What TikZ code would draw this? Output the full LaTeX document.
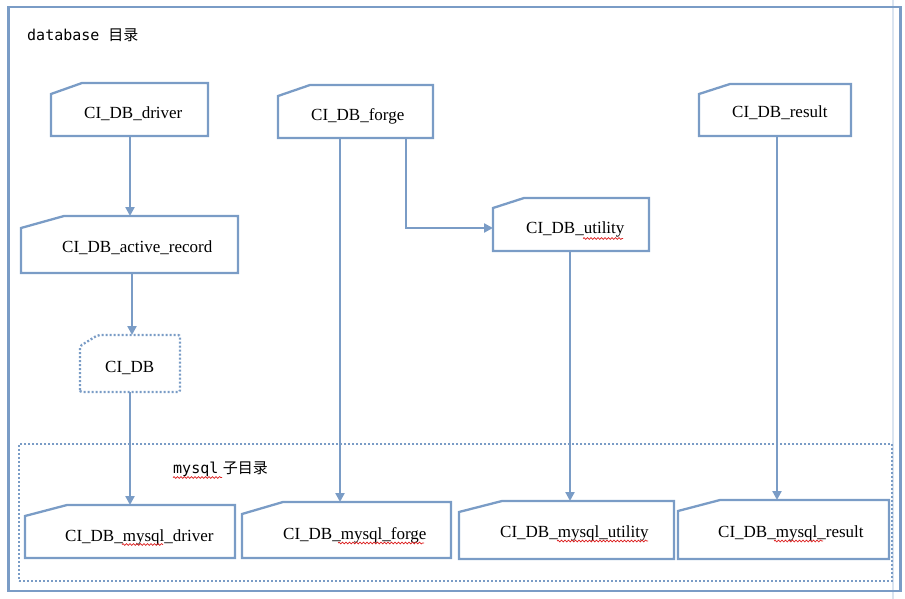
\documentclass[tikz,border=0pt]{standalone}
\usepackage{fontspec}
\setmainfont{Liberation Serif}
\setmonofont{DejaVu Sans Mono}
\newfontfamily\cjk{Noto Sans CJK SC}
\usetikzlibrary{arrows.meta,decorations.pathmorphing}
\definecolor{frameblue}{RGB}{122,156,198}
\definecolor{faintblue}{RGB}{218,228,240}
\definecolor{squig}{RGB}{220,30,30}
\tikzset{
  cardbase/.style={rectangle,inner sep=0pt,outer sep=0pt},
  cardline/.style={draw=frameblue,line width=2.3pt,line join=miter},
  carddot/.style={draw=frameblue,line width=2.3pt,dash pattern=on 2pt off 2pt,rounded corners=2pt},
  lbl/.style={inner sep=0pt,anchor=base west,font=\fontsize{17}{20}\selectfont},
  arr/.style={draw=frameblue,line width=2.3pt,-{Triangle[width=9pt,length=9pt]}},
  wavy/.style={draw=squig,line width=0.7pt,decorate,decoration={snake,amplitude=0.9pt,segment length=3.5pt}}
}
\newcommand\mkcard[8]{%
  \node[cardbase,minimum width={#4-#2},minimum height={#5-#3}] (#1) at ({(#2+#4)/2},{(#3+#5)/2}) {};
  \draw[#8] (#1.south west) -- ([yshift=-#7pt]#1.north west) -- ([xshift=#6pt]#1.north west) -- (#1.north east) -- (#1.south east) -- cycle;}
\begin{document}
\begin{tikzpicture}[x=1pt,y=-1pt]
\useasboundingbox (0,0) rectangle (905,599);
% faint side line
\draw[faintblue,line width=1.2pt] (893,0) -- (893,599);
% outer frame
\node[cardbase,minimum width=892,minimum height=584,draw=frameblue,line width=2.3pt] (frame) at (454.5,299) {};
% inner dotted area
\node[cardbase,minimum width=873,minimum height=137,draw=frameblue,line width=2.3pt,dash pattern=on 2pt off 2pt] (mysqlarea) at (455.5,512.5) {};
\node[inner sep=0pt,anchor=base west,font=\fontsize{15}{18}\selectfont] (title) at (27,41) {\ttfamily database \cjk 目录};
\node[inner sep=0pt,anchor=base west,font=\fontsize{15}{18}\selectfont] (subtitle) at (173,473) {\ttfamily mysql\hspace{0.3em}\cjk 子目录};

% cards
\mkcard{driver}{51}{83}{208}{136}{31}{11}{cardline}
\mkcard{forge}{278}{85}{433}{138}{32}{11}{cardline}
\mkcard{result}{699}{84}{851}{136}{31}{10}{cardline}
\mkcard{utility}{493}{198}{649}{251}{31}{10}{cardline}
\mkcard{active}{21}{216}{238}{273}{43}{12}{cardline}
\mkcard{cidb}{80}{335}{180}{392}{18}{11}{carddot}
\mkcard{mdriver}{25}{505}{235}{558}{42}{11}{cardline}
\mkcard{mforge}{242}{502}{451}{558}{41}{12}{cardline}
\mkcard{mutility}{459}{501}{674}{559}{43}{11}{cardline}
\mkcard{mresult}{678}{500}{889}{559}{42}{11}{cardline}

% labels
\node[lbl] (tdriver) at (84,119) {CI\_DB\_driver};
\node[lbl] (tforge) at (311,121) {CI\_DB\_forge};
\node[lbl] (tutility) at (526,233) {CI\_DB\_utility};
\node[lbl] (tresult) at (732,118) {CI\_DB\_result};
\node[lbl] (tactive) at (62,252) {CI\_DB\_active\_record};
\node[lbl] (tcidb) at (105,372) {CI\_DB};
\node[lbl] (tmdriver) at (65,541) {CI\_DB\_mysql\_driver};
\node[lbl] (tmforge) at (283,539) {CI\_DB\_mysql\_forge};
\node[lbl] (tmutility) at (500,537) {CI\_DB\_mysql\_utility};
\node[lbl] (tmresult) at (718,537) {CI\_DB\_mysql\_result};

% spell-check squiggles
\draw[wavy] (173,477.5) -- (222,477.5);
\draw[wavy] (583,238.5) -- (623,238.5);
\draw[wavy] (122,544.5) -- (163,544.5);
\draw[wavy] (338,543) -- (424,543);
\draw[wavy] (557,541) -- (648,541);
\draw[wavy] (774,541) -- (823,541);

% connectors
\draw[arr] ([xshift=0.5pt]driver.south) -- ([xshift=0.5pt]driver.south |- active.north);
\draw[arr] ([xshift=2.5pt]active.south) -- ([xshift=2.5pt]active.south |- cidb.north);
\draw[arr] (cidb.south) -- (cidb.south |- mdriver.north);
\draw[arr] ([xshift=-15.5pt]forge.south) -- ([xshift=-15.5pt]forge.south |- mforge.north);
\draw[arr] ([xshift=50.5pt]forge.south) |- ([yshift=-3.5pt]utility.west);
\draw[arr] ([xshift=-1pt]utility.south) -- ([xshift=-1pt]utility.south |- mutility.north);
\draw[arr] ([xshift=2pt]result.south) -- ([xshift=2pt]result.south |- mresult.north);
\end{tikzpicture}
\end{document}
